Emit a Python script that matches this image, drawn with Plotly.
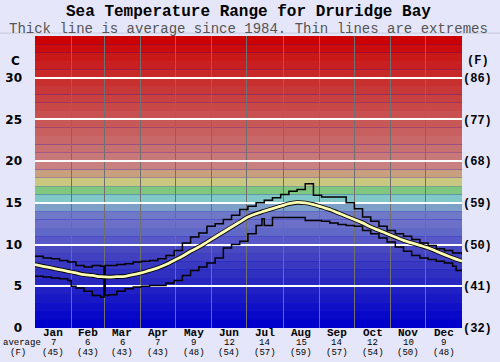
import plotly.graph_objects as go

# ---------------- data ----------------
months = ['Jan', 'Feb', 'Mar', 'Apr', 'May', 'Jun', 'Jul', 'Aug', 'Sep', 'Oct', 'Nov', 'Dec']
month_starts = [0, 31, 59, 90, 120, 151, 181, 212, 243, 273, 304, 334, 365]
month_avg_c = [7, 6, 6, 7, 9, 12, 14, 15, 14, 12, 10, 9]
month_avg_f = [45, 43, 43, 43, 48, 54, 57, 59, 57, 54, 50, 48]

left_ticks = [0, 5, 10, 15, 20, 25, 30]
right_tick_text = ['(32)', '(41)', '(50)', '(59)', '(68)', '(77)', '(86)']

avg_days = [0, 7, 14, 21, 28, 35, 42, 49, 56, 63, 70, 77, 84, 91, 98, 105, 112, 119, 126, 133,
            140, 147, 154, 161, 168, 175, 182, 189, 196, 203, 210, 217, 224, 231, 238, 245, 252,
            259, 266, 273, 280, 287, 294, 301, 308, 315, 322, 329, 336, 343, 350, 357, 365]
avg_vals = [7.6, 7.4, 7.2, 7.0, 6.8, 6.6, 6.4, 6.3, 6.15, 6.1, 6.15, 6.2, 6.4, 6.6, 6.9, 7.2, 7.6,
            8.1, 8.6, 9.2, 9.7, 10.3, 10.9, 11.5, 12.1, 12.7, 13.3, 13.7, 14.0, 14.3, 14.6, 14.9,
            15.05, 15.0, 14.8, 14.5, 14.2, 13.8, 13.4, 13.0, 12.6, 12.1, 11.7, 11.3, 10.9, 10.5,
            10.2, 9.9, 9.6, 9.2, 8.8, 8.4, 8.0]

max_days = [0, 7, 14, 21, 28, 35, 42, 49, 56, 59, 60, 63, 70, 77, 84, 91, 98, 105, 112, 119, 126,
            133, 140, 147, 154, 161, 168, 175, 182, 189, 196, 203, 210, 217, 224, 231, 238, 245,
            252, 259, 266, 273, 280, 287, 294, 301, 308, 315, 322, 329, 336, 343, 350, 357, 365]
max_vals = [8.6, 8.4, 8.3, 8.1, 7.9, 7.5, 7.3, 7.5, 7.4, 6.1, 7.5, 7.5, 7.6, 7.7, 7.9, 8.0, 8.1,
            8.3, 8.7, 9.3, 10.2, 10.9, 11.4, 12.2, 12.5, 13.0, 13.5, 14.2, 14.6, 15.0, 15.3, 15.6,
            16.0, 16.4, 16.6, 17.3, 15.9, 15.7, 15.7, 15.7, 15.0, 14.3, 13.3, 12.8, 12.2, 11.7,
            11.3, 11.0, 10.6, 10.2, 9.9, 9.5, 9.3, 9.0, 8.8]

min_days = [0, 7, 14, 21, 28, 31, 35, 42, 49, 56, 59, 60, 63, 70, 77, 84, 91, 98, 105, 112, 119,
            126, 133, 140, 147, 154, 161, 168, 175, 182, 189, 194, 196, 203, 210, 217, 224, 231,
            238, 245, 252, 259, 266, 273, 280, 287, 294, 301, 308, 315, 322, 329, 336, 343, 350,
            357, 360, 365]
min_vals = [6.2, 6.1, 6.0, 5.9, 5.7, 5.0, 4.8, 4.4, 3.9, 3.7, 6.1, 3.9, 4.0, 4.4, 4.7, 4.9, 5.0,
            5.1, 5.1, 5.4, 5.7, 6.3, 6.9, 7.3, 7.8, 8.4, 9.6, 10.0, 10.4, 11.3, 12.3, 13.1, 12.3,
            13.25, 13.25, 13.25, 13.25, 12.9, 12.9, 12.8, 12.6, 12.4, 12.3, 12.2, 11.7, 11.3,
            10.8, 10.3, 9.7, 9.2, 8.7, 8.4, 8.2, 8.0, 7.8, 7.4, 6.9, 6.9]

# background colour bands, one per degree C from 0 upward
band_colors = ['#0000cc', '#0808c8', '#1010c8', '#1818c4', '#2020c4', '#2828c0', '#3030c0',
               '#3838c0', '#4040c0', '#4848c0', '#5858c8', '#6068c8', '#6c70c8', '#7078c8',
               '#7ca0c8', '#80c8c8', '#80c880', '#c8c880', '#c8a080', '#c88080', '#c87878',
               '#c87070', '#c86868', '#c86060', '#c85858', '#c85050', '#c84848', '#c84040',
               '#c83838', '#c83030', '#c82828', '#c82020', '#c81818', '#cc0c0c', '#cc0000']

MONO = 'Liberation Mono'
SANS = 'DejaVu Sans'

fig = go.Figure()

shapes = []
for i, col in enumerate(band_colors):
    shapes.append(dict(type='rect', xref='x', yref='y', x0=0, x1=365, y0=i, y1=i + 1,
                       fillcolor=col, line=dict(width=0), layer='below'))
shapes.append(dict(type='line', xref='paper', yref='paper', x0=-0.09, x1=1.1, y0=1.010, y1=1.010,
                   line=dict(color='#c8c8dc', width=1)))

fig.add_trace(go.Scatter(x=max_days, y=max_vals, mode='lines', line=dict(color='black', width=1.5, shape='hv'),
                         hoverinfo='skip', showlegend=False))
fig.add_trace(go.Scatter(x=min_days, y=min_vals, mode='lines', line=dict(color='black', width=1.5, shape='hv'),
                         hoverinfo='skip', showlegend=False))
fig.add_trace(go.Scatter(x=avg_days, y=avg_vals, mode='lines', line=dict(color='black', width=4.5, shape='spline'),
                         hoverinfo='skip', showlegend=False))
fig.add_trace(go.Scatter(x=avg_days, y=avg_vals, mode='lines', line=dict(color='#ffffb4', width=2.8, shape='spline'),
                         hoverinfo='skip', showlegend=False))
fig.add_trace(go.Scatter(x=[0], y=[0], yaxis='y2', mode='markers', marker=dict(opacity=0),
                         hoverinfo='skip', showlegend=False))

annotations = []
annotations.append(dict(text='<b>Sea Temperature Range for Druridge Bay</b>', xref='paper', yref='paper',
                        x=0.5, y=1.0, yshift=24, yanchor='middle', xanchor='center', showarrow=False,
                        font=dict(family=MONO, size=16, color='black')))
annotations.append(dict(text='Thick line is average since 1984. Thin lines are extremes', xref='paper',
                        yref='paper', x=0.5, y=1.0, yshift=7, yanchor='middle', xanchor='center',
                        showarrow=False, font=dict(family=MONO, size=14, color='#555555')))
annotations.append(dict(text='<b>C</b>', xref='paper', yref='y', x=0, xshift=-13, y=32, yanchor='middle',
                        xanchor='right', showarrow=False, font=dict(family=SANS, size=12, color='black')))
annotations.append(dict(text='<b>(F)</b>', xref='paper', yref='y', x=1, xshift=16, y=32, yanchor='middle',
                        xanchor='center', showarrow=False, font=dict(family=MONO, size=12, color='black')))
for i, m in enumerate(months):
    mid = (month_starts[i] + month_starts[i + 1]) / 2
    annotations.append(dict(text='<b>' + m + '</b>', xref='x', yref='paper', x=mid, y=0, yshift=-5,
                            yanchor='middle', xanchor='center', showarrow=False,
                            font=dict(family=MONO, size=11, color='black')))
    annotations.append(dict(text=str(month_avg_c[i]), xref='x', yref='paper', x=mid, y=0, yshift=-14.5,
                            yanchor='middle', xanchor='center', showarrow=False,
                            font=dict(family=MONO, size=9, color='black')))
    annotations.append(dict(text='(' + str(month_avg_f[i]) + ')', xref='x', yref='paper', x=mid, y=0,
                            yshift=-25, yanchor='middle', xanchor='center', showarrow=False,
                            font=dict(family=MONO, size=9, color='black')))
annotations.append(dict(text='average', xref='paper', yref='paper', x=0, xshift=-13, y=0, yshift=-14.5,
                        yanchor='middle', xanchor='center', showarrow=False,
                        font=dict(family=MONO, size=9, color='black')))
annotations.append(dict(text='(F)', xref='paper', yref='paper', x=0, xshift=-17, y=0, yshift=-25,
                        yanchor='middle', xanchor='center', showarrow=False,
                        font=dict(family=MONO, size=9, color='black')))

fig.update_layout(
    width=500, height=362,
    margin=dict(l=35, r=38, t=36, b=34, autoexpand=False),
    paper_bgcolor='#e6e6fa', plot_bgcolor='#0000cc',
    shapes=shapes, annotations=annotations,
    xaxis=dict(range=[0, 365], tickvals=month_starts[1:-1], showticklabels=False, ticks='',
               showgrid=True, gridcolor='#707070', gridwidth=1, zeroline=False, fixedrange=True,
               automargin=False),
    yaxis=dict(range=[0, 35], tickvals=left_ticks, ticktext=['<b>' + str(v) + '</b>' for v in left_ticks],
               showgrid=True, gridcolor='white', gridwidth=2, zeroline=False, ticks='',
               ticklabelstandoff=12,
               tickfont=dict(family=SANS, size=12, color='black'), fixedrange=True, automargin=False),
    yaxis2=dict(range=[0, 35], overlaying='y', side='right', tickvals=left_ticks,
                ticktext=['<b>' + t + '</b>' for t in right_tick_text], showgrid=False, zeroline=False,
                ticks='', tickfont=dict(family=MONO, size=12, color='black'), fixedrange=True,
                automargin=False),
)

fig.write_html('out.html', post_script="document.body.style.margin='0';",
               config={'displayModeBar': False})
